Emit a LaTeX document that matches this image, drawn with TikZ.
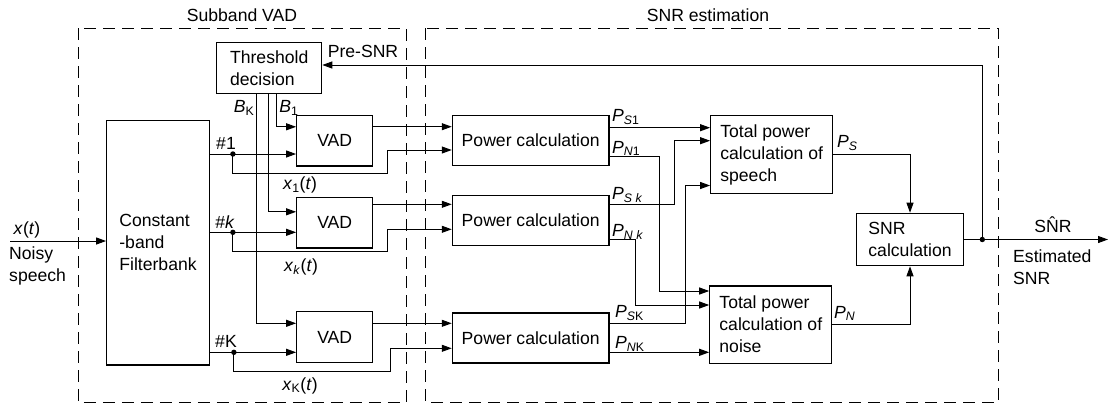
\documentclass[tikz,border=0pt]{standalone}
\usepackage{fontspec}
\setmainfont{Liberation Sans}
\usetikzlibrary{arrows.meta}

\begin{document}
\begin{tikzpicture}[x=1pt, y=-1pt,
        every node/.style={font=\fontsize{17.6}{22}\selectfont, inner sep=0pt},
        blk/.style={draw, line width=1.2pt, align=left},
        wire/.style={line width=1pt},
        arr/.style={wire, -{Triangle[length=10pt,width=7pt]}},
        zone/.style={draw, line width=1pt, dash pattern=on 12pt off 7pt}
    ]
        \useasboundingbox (0,0) rectangle (1110,405);
        \draw[zone] (78.3,28.3) rectangle (406,402.7);
        \draw[zone] (425.7,28.3) rectangle (998.3,402.7);
        \node (tvad) at (242,15) {Subband VAD};
        \node (tsnr) at (708,15) {SNR estimation};

        \node[blk, minimum width=105, minimum height=50.6] (thr) at (269.2,68) {Threshold\\decision};
        \node[blk, minimum width=102.6, minimum height=244.3] (fb) at (158,242.8) {Constant\\-band\\Filterbank};
        \node[blk, minimum width=76, minimum height=50.3] (vad1) at (334.7,140.8) {VAD};
        \node[blk, minimum width=76, minimum height=50.3] (vadk) at (334.7,222.8) {VAD};
        \node[blk, minimum width=76, minimum height=50.3] (vadK) at (334.7,337) {VAD};
        \node[blk, minimum width=156.7, minimum height=50] (pc1) at (530.7,140.7) {Power calculation};
        \node[blk, minimum width=156.7, minimum height=50] (pck) at (530.7,220.3) {Power calculation};
        \node[blk, minimum width=156.7, minimum height=50] (pcK) at (530.7,338) {Power calculation};
        \node[blk, minimum width=122, minimum height=77.6] (ts) at (771.7,154.5) {Total power\\calculation of\\speech};
        \node[blk, minimum width=122, minimum height=77.3] (tn) at (770.8,324.7) {Total power\\calculation of\\noise};
        \node[blk, minimum width=106.6, minimum height=52.4] (snr) at (910,239.5) {SNR\\calculation};

        % input and output
        \coordinate (in) at (10,241);
        \coordinate (out) at (1108,239.5);
        \draw[arr] (in) -- (fb.west |- in);
        \node (lxt) at (27,230) {\textit{x}(\textit{t})};
        \node[anchor=west, align=left] (lnoisy) at (9,266) {Noisy\\speech};
        \draw[arr] (snr.east) -- (out);
        \path (snr.east) ++(18.4,0) coordinate (fbk);
        \fill (fbk) circle (2.7);
        \node (lhat) at (1053,225) {S\^{N}R};
        \node[anchor=west, align=left] (lest) at (1013,267) {Estimated\\SNR};
        \draw[arr] (fbk) |- ([yshift=3]thr.east);
        \node (lpre) at (363,51.7) {Pre-SNR};

        % threshold decisions
        \draw[arr] ([xshift=7.5]thr.south) |- ([yshift=14]vad1.west);
        \draw[arr] ([xshift=-1]thr.south) |- ([yshift=11]vadk.west);
        \draw[arr] ([xshift=-13.2]thr.south) |- ([yshift=13.7]vadK.west);
        \node (lbK) at (244,108) {\textit{B}\textsubscript{K}};
        \node (lb1) at (289,108) {\textit{B}\textsubscript{1}};

        % subbands
        \coordinate (in1) at ([yshift=-13.2]vad1.west);
        \coordinate (ink) at ([yshift=-9.5]vadk.west);
        \coordinate (inK) at ([yshift=-15.3]vadK.west);
        \draw[arr] (fb.east |- in1) -- (in1);
        \draw[arr] (fb.east |- ink) -- (ink);
        \draw[arr] (fb.east |- inK) -- (inK);
        \path (fb.east |- in1) ++(23,0) coordinate (d1);
        \path (fb.east |- ink) ++(23,0) coordinate (dk);
        \path (fb.east |- inK) ++(24,0) coordinate (dK);
        \foreach \d in {d1,dk,dK} \fill (\d) circle (2.7);
        \draw[arr] (d1) |- ++(155,19.3) |- ([yshift=-9.3]pc1.west);
        \draw[arr] (dk) |- ++(155,19.4) |- ([yshift=-9]pck.west);
        \draw[arr] (dK) |- ++(156.7,19.4) |- ([yshift=-10.3]pcK.west);
        \node (l1) at (226,143) {\#1};
        \node (lk) at (225,221.7) {\#\textit{k}};
        \node (lK) at (226,341.7) {\#K};
        \node (lx1) at (300,185) {\textit{x}\textsubscript{1}(\textit{t})};
        \node (lxk) at (301,267.3) {\textit{x}\textsubscript{\textit{k}}(\textit{t})};
        \node (lxK) at (300,385.7) {\textit{x}\textsubscript{K}(\textit{t})};

        % VAD to power
        \draw[arr] (vad1.east |- 0,126.7) -- ([yshift=14]pc1.west);
        \draw[arr] (vadk.east |- 0,204.3) -- ([yshift=16]pck.west);
        \draw[arr] (vadK.east |- 0,323.3) -- ([yshift=14.7]pcK.west);

        % power to totals
        \draw[arr] (pc1.east |- 0,127.7) -- ([yshift=26.8]ts.west);
        \draw[arr] ([yshift=-16]pc1.east) -- ++(50.3,0) |- ([yshift=33.7]tn.west);
        \draw[arr] ([yshift=16.3]pck.east) -- ++(65,0) |- ([yshift=13.8]ts.west);
        \draw[arr] ([yshift=-18.7]pck.east) -- ++(26,0) |- ([yshift=19.7]tn.west);
        \draw[arr] ([yshift=14.7]pcK.east) -- ++(76,0) |- ([yshift=-31]ts.west);
        \draw[arr] (pcK.east |- 0,352.3) -- (tn.west |- 0,352.3);
        \node[anchor=west] (lps1) at (612,116.7) {\textit{P}\textsubscript{\textit{S}1}};
        \node[anchor=west] (lpn1) at (612,148.3) {\textit{P}\textsubscript{\textit{N}1}};
        \node[anchor=west] (lpsk) at (612,195) {\textit{P}\textsubscript{\textit{S k}}};
        \node[anchor=west] (lpnk) at (612,231.7) {\textit{P}\textsubscript{\textit{N k}}};
        \node[anchor=west] (lpsK) at (615,313.3) {\textit{P}\textsubscript{\textit{S}K}};
        \node[anchor=west] (lpnK) at (615,344) {\textit{P}\textsubscript{\textit{N}K}};

        % totals to SNR
        \draw[arr] (ts.east) -| (snr.north);
        \draw[arr] (tn.east) -| (snr.south);
        \node[anchor=west] (lps) at (837,143.3) {\textit{P}\textsubscript{\textit{S}}};
        \node[anchor=west] (lpn) at (834,313.3) {\textit{P}\textsubscript{\textit{N}}};
    \end{tikzpicture}
\end{document}
